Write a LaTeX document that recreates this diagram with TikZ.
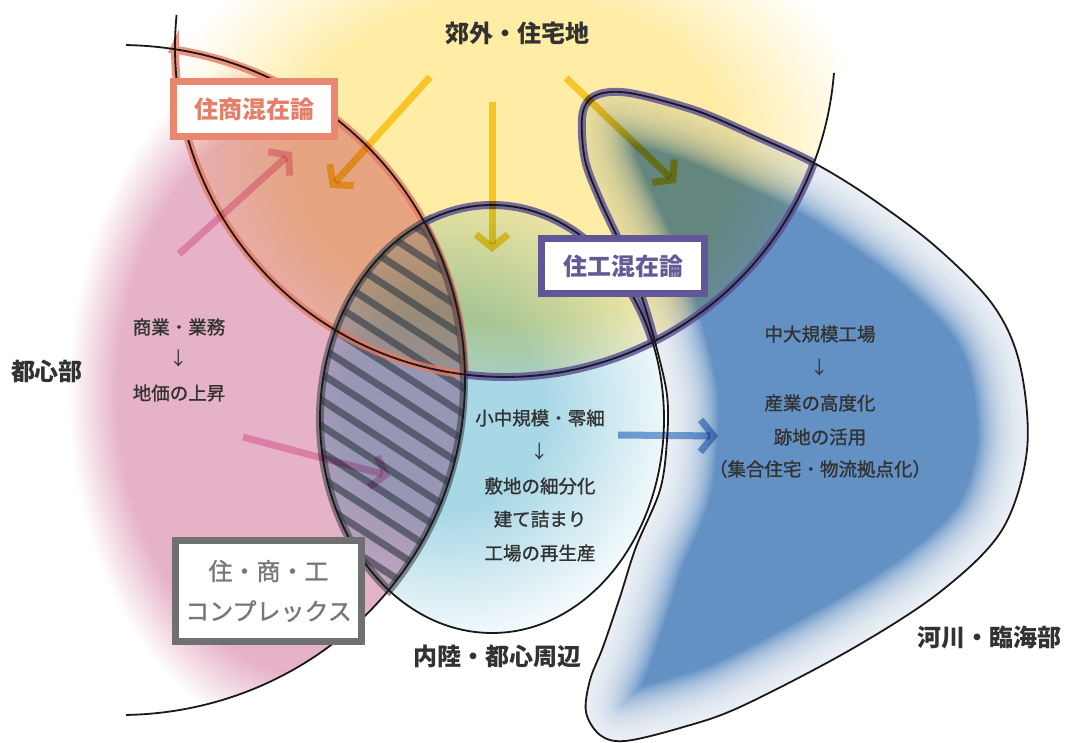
\documentclass[tikz,border=0pt]{standalone}
\usepackage{fontspec}
\setmainfont{Noto Sans CJK JP}
\newfontfamily\jpmed[FakeBold=1.2]{Noto Sans CJK JP}
\usetikzlibrary{arrows.meta}

\definecolor{pinkc}{RGB}{230,178,200}
\definecolor{yelc}{RGB}{255,236,165}
\definecolor{cyanc}{RGB}{168,215,230}
\definecolor{bluec}{RGB}{100,145,196}
\definecolor{orangeband}{RGB}{232,122,98}
\definecolor{purpleband}{RGB}{86,76,150}
\definecolor{grayband}{RGB}{50,60,70}
\definecolor{hatchc}{RGB}{45,55,65}
\definecolor{linec}{RGB}{25,25,25}
\definecolor{txtc}{RGB}{50,50,50}
\definecolor{yarrow}{RGB}{248,212,60}
\definecolor{parrow}{RGB}{242,182,212}
\definecolor{barrow}{RGB}{125,165,215}
\definecolor{salmonbox}{RGB}{234,135,112}
\definecolor{salmontxt}{RGB}{228,128,105}
\definecolor{purplebox}{RGB}{96,86,152}
\definecolor{purpletxt}{RGB}{100,90,150}
\definecolor{graybox}{RGB}{112,112,112}
\definecolor{graytxt}{RGB}{120,120,120}

\pgfdeclareradialshading{pinkglow}{\pgfpoint{0bp}{0bp}}{color(0bp)=(pinkc); color(20bp)=(pinkc); color(25bp)=(white); color(50bp)=(white)}
\pgfdeclareradialshading{yelglow}{\pgfpoint{0bp}{0bp}}{color(0bp)=(yelc); color(15bp)=(yelc); color(25bp)=(white); color(50bp)=(white)}
\pgfdeclareradialshading{cyanglow}{\pgfpoint{0bp}{0bp}}{color(0bp)=(cyanc); color(10bp)=(cyanc); color(25bp)=(white); color(50bp)=(white)}

\def\blueshape{plot[smooth cycle, tension=0.55] coordinates {(582,118) (590,99) (610,92) (640,95) (700,112) (760,138) (814,163) (868,196) (935,246) (993,305) (1020,365) (1027,450) (1002,530) (940,592) (850,650) (740,707) (680,728) (625,741) (600,735) (586,712) (590,680) (603,647) (620,597) (636,547) (660,490) (667,440) (667,395) (655,342) (640,292) (620,243) (600,200) (585,160)}}

\begin{document}
\begin{tikzpicture}[x=1pt,y=-1pt,
  bline/.style={draw=linec, line width=1.8pt},
  band/.style={line width=8pt, opacity=0.8},
  arr/.style={line width=7pt, -{Straight Barb[length=13pt,width=32pt]}, blend mode=multiply},
  lbl/.style={font=\bfseries\fontsize{24}{28}\selectfont, text=txtc, inner sep=0pt},
  inr/.style={font=\jpmed\fontsize{18.5}{22}\selectfont, text=txtc, inner sep=0pt},
  dn/.style={font=\fontsize{18.5}{22}\selectfont, text=txtc, inner sep=0pt},
  boxstyle/.style={fill=white, line width=7pt, inner sep=0pt, font=\bfseries\fontsize{24}{28}\selectfont}
]
\useasboundingbox (0,0) rectangle (1069,743);
\fill[white] (0,0) rectangle (1069,743);

% blue region with inner white glow
\begin{scope}
  \clip \blueshape;
  \fill[bluec] (500,50) rectangle (1069,743);
  \foreach \w in {4,8,...,100} {\draw[white, line width=\w pt, opacity=0.09] \blueshape;}
\end{scope}

% middle (cyan) region
\begin{scope}
  \clip (492,419) ellipse[x radius=172, y radius=214];
  \shade[shading=cyanglow, blend mode=multiply] (195,160) rectangle (695,660);
\end{scope}

% pink region
\begin{scope}
  \clip (120,380) ellipse[x radius=345, y radius=335];
  \shade[shading=pinkglow, blend mode=multiply] (68,40) rectangle (560,745);
\end{scope}

% yellow region
\begin{scope}
  \clip (505,47) ++(185.6:330) arc[start angle=185.6, end angle=4.5, radius=330] -- (1069,73) -- (1069,-5) -- (176.6,-5) -- cycle;
  \shade[shading=yelglow, blend mode=multiply] (150,-110) rectangle (875,430);
\end{scope}

% hatching
\begin{scope}
  \clip (492,419) ellipse[x radius=172, y radius=214];
  \clip (120,380) ellipse[x radius=345, y radius=335];
  \foreach \i in {0,...,20} {\draw[hatchc, line width=7pt, opacity=0.6] (300,100+26*\i) -- ++(250,162);}
\end{scope}

% coloured bands
\draw[band, draw=orangeband] (505,47) ++(180:330) arc[start angle=180, end angle=97, radius=330] arc[start angle=-1, end angle=-81, x radius=345, y radius=335] -- cycle;
\draw[band, draw=grayband, opacity=0.55] (492,419) ++(247:172 and 214) arc[start angle=247, end angle=126.8, x radius=172, y radius=214] arc[start angle=38.5, end angle=-27.9, x radius=345, y radius=335] -- cycle;
\draw[band, draw=purpleband] (492,419) ++(-113:172 and 214) arc[start angle=-113, end angle=-21, x radius=172, y radius=214];
\draw[band, draw=purpleband] (505,47) ++(97:330) arc[start angle=97, end angle=20.5, radius=330];
\begin{scope}
  \clip (505,47) circle[radius=330];
  \draw[band, draw=purpleband] \blueshape;
\end{scope}

% black boundaries
\draw[bline] (120,380) ++(-89:345 and 335) arc[start angle=-89, end angle=89, x radius=345, y radius=335];
\draw[bline] (505,47) ++(185.6:330) arc[start angle=185.6, end angle=4.5, radius=330];
\draw[bline] (492,419) ellipse[x radius=172, y radius=214];
\draw[bline] \blueshape;

% arrows
\coordinate (y1s) at (430,77);  \coordinate (y1e) at (330,188);
\coordinate (y2s) at (492,102); \coordinate (y2e) at (492,252);
\coordinate (y3s) at (566,78);  \coordinate (y3e) at (676,183);
\coordinate (p1s) at (179,254); \coordinate (p1e) at (292,152);
\coordinate (p2s) at (243,437); \coordinate (p2e) at (390,476);
\coordinate (b1s) at (618,435); \coordinate (b1e) at (718,436);
\draw[arr, draw=yarrow] (y1s) -- (y1e);
\draw[arr, draw=yarrow] (y2s) -- (y2e);
\draw[arr, draw=yarrow] (y3s) -- (y3e);
\draw[arr, draw=parrow] (p1s) -- (p1e);
\draw[arr, draw=parrow] (p2s) -- (p2e);
\draw[arr, draw=barrow] (b1s) -- (b1e);

% boxes
\node[boxstyle, draw=salmonbox, text=salmontxt, minimum width=161pt, minimum height=55pt] (bx1) at (254,109) {住商混在論};
\node[boxstyle, draw=purplebox, text=purpletxt, minimum width=163pt, minimum height=55pt] (bx2) at (623,266) {住工混在論};
\node[boxstyle, draw=graybox, text=graytxt, minimum width=186pt, minimum height=101pt, align=center, font=\jpmed\fontsize{24}{40}\selectfont] (bx3) at (268.5,591) {住・商・工\\コンプレックス};

% region labels
\node[lbl] (t1) at (517,33) {郊外・住宅地};
\node[lbl] (t2) at (47,371) {都心部};
\node[lbl] (t3) at (497,656) {内陸・都心周辺};
\node[lbl] (t4) at (989,637) {河川・臨海部};

% inner texts
\node[inr] (a1) at (179,327) {商業・業務};
\node[dn]  (a2) at (179,359) {↓};
\node[inr] (a3) at (179,393) {地価の上昇};
\node[inr] (m1) at (540,418) {小中規模・零細};
\node[dn]  (m2) at (540,452) {↓};
\node[inr] (m3) at (540,486) {敷地の細分化};
\node[inr] (m4) at (540,519) {建て詰まり};
\node[inr] (m5) at (540,553) {工場の再生産};
\node[inr] (r1) at (820,334) {中大規模工場};
\node[dn]  (r2) at (820,368) {↓};
\node[inr] (r3) at (820,403) {産業の高度化};
\node[inr] (r4) at (820,437) {跡地の活用};
\node[inr] (r5) at (820,469) {（集合住宅・物流拠点化）};
\end{tikzpicture}
\end{document}
